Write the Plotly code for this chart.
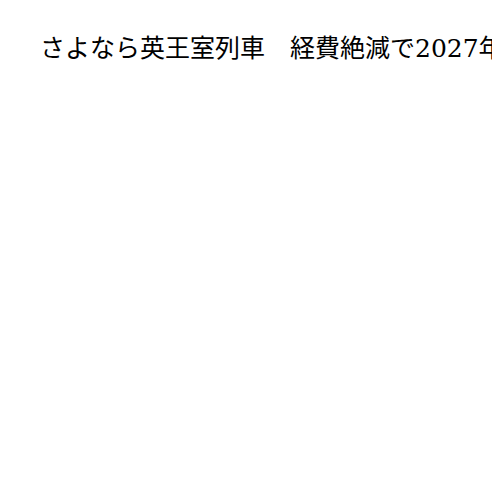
import plotly.graph_objects as go

title_text = "さよなら英王室列車　経費絶減で2027年に廃止へ"

fig = go.Figure()
fig.update_layout(
    width=500, height=500,
    title=dict(text=title_text, x=0.064, xref='container', xanchor='left',
               y=0.92, yref='container', yanchor='middle',
               font=dict(family="DejaVu Serif, Noto Sans CJK JP", size=25, color="#000000")),
    paper_bgcolor="white", plot_bgcolor="white",
    margin=dict(l=10, r=10, t=100, b=10),
    showlegend=False,
)
fig.update_xaxes(visible=False)
fig.update_yaxes(visible=False)
fig.write_html("out.html")
